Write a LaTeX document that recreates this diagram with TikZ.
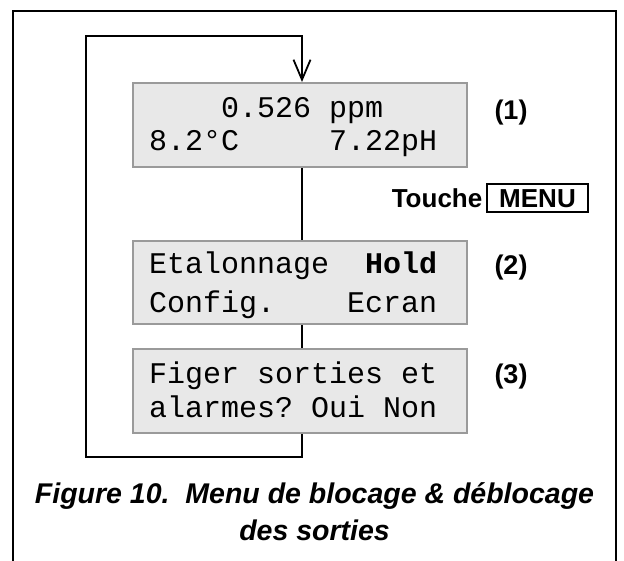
\documentclass[tikz,border=0pt]{standalone}
\usepackage{fontspec}
\setmainfont{Liberation Sans}
\newfontfamily\lcdfont{Liberation Mono}
\usetikzlibrary{arrows.meta}
\definecolor{lcdfill}{HTML}{E8E8E8}
\definecolor{lcdedge}{HTML}{9A9A9A}
\frenchspacing
\begin{document}
\begin{tikzpicture}[x=1pt,y=-1pt,
  lcdbox/.style={draw=lcdedge, fill=lcdfill, line width=2pt,
    minimum width=334pt, minimum height=84pt, inner sep=0pt},
  lcdline/.style={inner sep=0pt, anchor=base west,
    font=\lcdfont\fontsize{30}{30}\selectfont},
  tag/.style={inner sep=0pt, font=\bfseries\fontsize{27}{27}\selectfont},
  keyfont/.style={font=\bfseries\fontsize{26}{26}\selectfont},
  capfont/.style={inner sep=0pt, anchor=base,
    font=\bfseries\itshape\fontsize{28.5}{34}\selectfont},
  link/.style={line width=1.5pt},
  returnline/.style={line width=1.8pt},
  outerframe/.style={line width=2.6pt}
]
\useasboundingbox (0,0) rectangle (624,560);

% outer frame (open at the bottom edge of the page)
\draw[outerframe] (13,570) -- (13,11) -- (616,11) -- (616,570);

% display screens
\node[lcdbox] (b1) at (300,125) {};
\node[lcdbox, minimum height=83pt] (b2) at (300,282.5) {};
\node[lcdbox] (b3) at (300,391) {};

% screen contents
\node[lcdline] (t11) at (149,117) {~~~~0.526~ppm};
\node[lcdline] (t12) at (149,150) {8.2°C~~~~~7.22pH};
\node[lcdline] (t21) at (149,273) {Etalonnage~~{\bfseries Hold}};
\node[lcdline] (t22) at (149,312) {Config.~~~~Ecran};
\node[lcdline] (t31) at (149,383) {Figer~sorties~et};
\node[lcdline] (t32) at (149,417) {alarmes?~Oui~Non};

% step numbers
\node[tag] (n1) at (511,113) {(1)};
\node[tag] (n2) at (511,268) {(2)};
\node[tag] (n3) at (511,377) {(3)};

% key label
\node[keyfont, draw, line width=1.8pt, anchor=base, inner xsep=0pt, inner ysep=0pt,
  minimum width=101pt, text height=23.3pt, text depth=4.7pt] (menu) at (537.5,207.3) {MENU};
\node[keyfont, anchor=base east, inner sep=0pt] (touche) at (482.5,207.3) {Touche};

% connectors
\coordinate (cx) at (302,0);
\coordinate (lowleft) at (86,457);
\coordinate (upleft) at (86,36);
\draw[link] (b1.south -| cx) -- (b2.north -| cx);
\draw[link] (b2.south -| cx) -- (b3.north -| cx);
\draw[returnline, -{Straight Barb[length=20pt,width=17pt]}]
  (b3.south -| cx) |- (lowleft) -- (upleft) -| (b1.north -| cx);

% caption
\node[capfont] (cap1) at (314.5,503) {Figure 10.\ \ Menu de blocage \& déblocage};
\node[capfont] (cap2) at (314.5,540) {des sorties};
\end{tikzpicture}
\end{document}
